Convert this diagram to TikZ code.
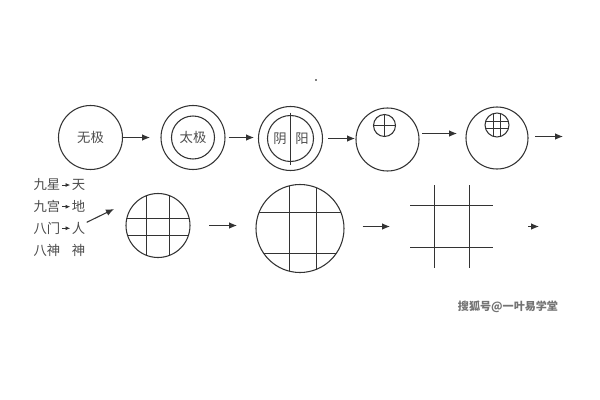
\documentclass[tikz,border=0pt]{standalone}
\usepackage{fontspec}
\newfontfamily\cjk{Noto Sans CJK SC}
\usetikzlibrary{arrows.meta,calc}
\begin{document}
\begin{tikzpicture}[x=0.75pt,y=-0.75pt,
  ln/.style={draw=black!80,line width=0.8pt},
  ring/.style={ln,circle,inner sep=0pt},
  arr/.style={ln,-{Latex[length=6pt,width=5pt]}},
  sarr/.style={ln,line width=0.6pt,-{Latex[length=3.5pt,width=3pt]}},
  txt/.style={text=black!70,font=\cjk\fontsize{10}{12}\selectfont,inner sep=1pt},
  wmark/.style={text=black!55,font=\cjk\bfseries\fontsize{8.3}{10}\selectfont,inner sep=0pt}]
\useasboundingbox[fill=white] (0,0) rectangle (600,400);
% stray dot
\fill[black!50] (315.3,79.3) rectangle (316.8,80.8);
% row 1
\node[ring,minimum size=48pt] (c1) at (90.5,137.5) {};
\node[txt] (t1) at (c1) {无极};
\node[ring,minimum size=48pt] (c2) at (193,137.5) {};
\node[ring,minimum size=32.25pt] (c2i) at (193,137.5) {};
\node[txt] (t2) at (c2) {太极};
\node[ring,minimum size=48pt] (c3) at (290.5,138.5) {};
\node[ring,minimum size=34.5pt] (c3i) at (290.5,138.5) {};
\draw[ln] ($(c3)+(0,-26)$) -- ($(c3)+(0,26)$);
\node[txt] (t3a) at (280,139) {阴};
\node[txt] (t3b) at (302,139) {阳};
\node[ring,minimum size=47.25pt] (c4) at (387.5,139.5) {};
\node[ring,minimum size=16.5pt] (c4s) at (384.5,125.5) {};
\draw[ln] (c4s.north) -- (c4s.south) (c4s.west) -- (c4s.east);
\node[ring,minimum size=46.5pt] (c5) at (497,138) {};
\node[ring,minimum size=18pt] (c5s) at (497,125) {};
\begin{scope}
\clip (c5s.center) circle[radius=12];
\draw[ln] (493.5,110) -- (493.5,140) (500.5,110) -- (500.5,140)
          (480,121.5) -- (515,121.5) (480,128.5) -- (515,128.5);
\end{scope}
% row 1 arrows
\coordinate (e1) at (150,137.5);
\coordinate (e2) at (254,137.5);
\coordinate (e3) at (355,138.5);
\coordinate (s4) at (422,133.5);
\coordinate (e4) at (457,133.5);
\coordinate (s5) at (535,136.5);
\coordinate (e5) at (563,136.5);
\draw[arr] (c1.east) -- (e1);
\draw[arr] ($(c2.east)+(3,0)$) -- (e2);
\draw[arr] ($(c3.east)+(5,0)$) -- (e3);
\draw[arr] (s4) -- (e4);
\draw[arr] (s5) -- (e5);
% left text
\node[txt,anchor=west] (l1) at (32,185) {九星};
\node[txt] (r1) at (78.5,185) {天};
\node[txt,anchor=west] (l2) at (32,206.7) {九宫};
\node[txt] (r2) at (78.5,206.7) {地};
\node[txt,anchor=west] (l3) at (32,228.3) {八门};
\node[txt] (r3) at (78.5,228.3) {人};
\node[txt,anchor=west] (l4) at (32,250.7) {八神};
\node[txt] (r4) at (78.5,250.7) {神};
\draw[sarr] (l1.east) -- (r1.west);
\draw[sarr] (l2.east) -- (r2.west);
\draw[sarr] (l3.east) -- (r3.west);
\coordinate (e0) at (114,209);
\draw[arr] ($(r3.east)+(0,-6)$) -- (e0);
% row 2
\node[ring,minimum size=48pt] (c6) at (158,225.5) {};
\begin{scope}
\clip (c6.center) circle[radius=32];
\draw[ln] (146.5,190) -- (146.5,260) (169.5,190) -- (169.5,260)
          (120,218.5) -- (196,218.5) (120,235.5) -- (196,235.5);
\end{scope}
\node[ring,minimum size=66pt] (c7) at (300,228.5) {};
\begin{scope}
\clip (c7.center) circle[radius=44];
\draw[ln] (289.5,180) -- (289.5,280) (316.5,180) -- (316.5,280)
          (250,212.5) -- (350,212.5) (250,253.5) -- (350,253.5);
\end{scope}
% bare grid
\coordinate (g1) at (434.5,185);
\coordinate (g2) at (434.5,267.7);
\coordinate (g3) at (469.5,185);
\coordinate (g4) at (469.5,267.7);
\coordinate (g5) at (410,205.5);
\coordinate (g6) at (493.3,205.5);
\coordinate (g7) at (410,247.5);
\coordinate (g8) at (493.3,247.5);
\draw[ln] (g1) -- (g2) (g3) -- (g4) (g5) -- (g6) (g7) -- (g8);
% row 2 arrows
\coordinate (s6) at (209,225.5);
\coordinate (e6) at (237,225.5);
\coordinate (s7) at (362.7,226.5);
\coordinate (e7) at (390,226.5);
\coordinate (s8) at (528,226.5);
\coordinate (e8) at (539,226.5);
\draw[arr] (s6) -- (e6);
\draw[arr] (s7) -- (e7);
\draw[arr] (s8) -- (e8);
% watermark
\node[wmark] (wm) at (508,306.5) {搜狐号@一叶易学堂};
\end{tikzpicture}
\end{document}
